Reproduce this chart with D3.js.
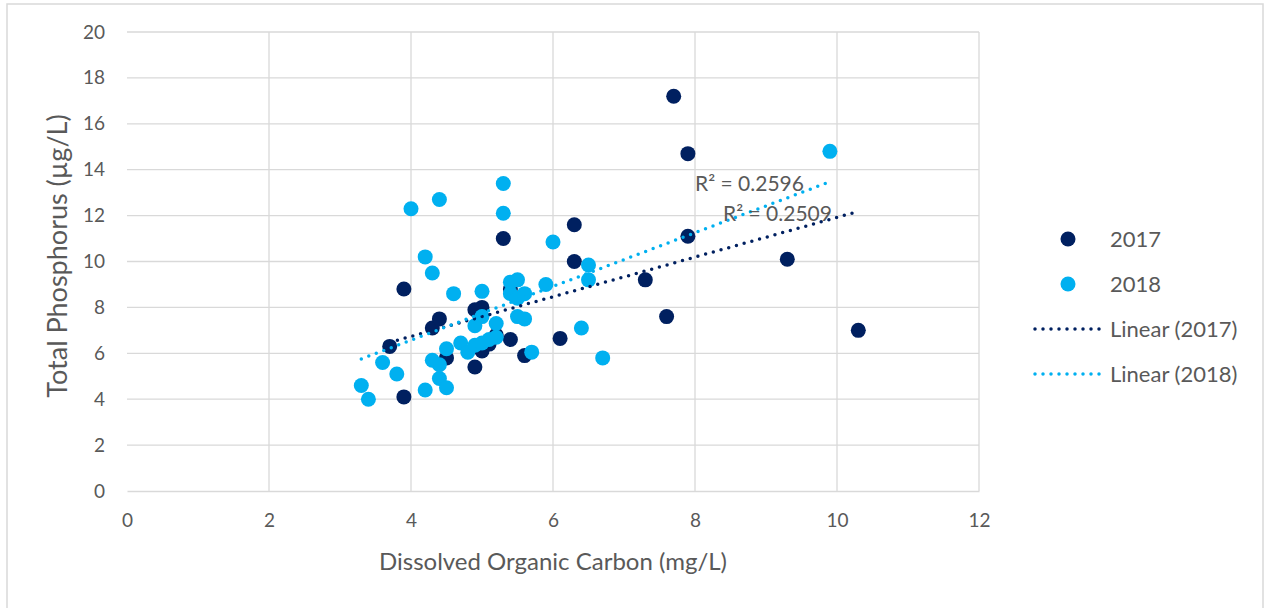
<!DOCTYPE html>
<html lang="en">
<head>
  <meta charset="UTF-8">
  <title>Total Phosphorus vs DOC</title>
  <script src="https://d3js.org/d3.v7.min.js"></script>
  <style>
    body { margin: 0; background: #fff; }
    text { font-family: Lato, "Open Sans", sans-serif; fill: #595959; }
  </style>
</head>
<body>
  <svg id="chart" width="1266" height="608"></svg>
  <script>
    // Data: [DOC mg/L, TP ug/L]
    const data2017 = [
      [3.7, 6.3], [3.9, 8.8], [3.9, 4.1], [4.3, 7.1], [4.4, 7.5], [4.5, 5.8],
      [4.9, 7.9], [5.0, 8.0], [4.9, 5.4], [5.0, 6.1], [5.1, 6.4], [5.2, 6.8],
      [5.3, 11.0], [5.4, 8.8], [5.4, 6.6], [5.6, 5.9], [6.1, 6.65], [6.3, 11.6],
      [6.3, 10.0], [7.3, 9.2], [7.6, 7.6], [7.7, 17.2], [7.9, 14.7], [7.9, 11.1],
      [9.3, 10.1], [10.3, 7.0]
    ];
    const data2018 = [
      [3.3, 4.6], [3.4, 4.0], [3.6, 5.6], [3.8, 5.1], [4.0, 12.3], [4.2, 10.2],
      [4.2, 4.4], [4.3, 9.5], [4.3, 5.7], [4.4, 12.7], [4.4, 5.5], [4.4, 4.9],
      [4.5, 6.2], [4.5, 4.5], [4.6, 8.6], [4.7, 6.45], [4.8, 6.05], [4.9, 6.35],
      [4.9, 7.2], [5.0, 6.45], [5.0, 7.6], [5.0, 8.7], [5.1, 6.6], [5.2, 6.7],
      [5.2, 7.3], [5.3, 13.4], [5.3, 12.1], [5.4, 9.1], [5.4, 8.6], [5.5, 9.2],
      [5.5, 8.4], [5.5, 7.6], [5.6, 8.6], [5.6, 7.5], [5.7, 6.05], [5.9, 9.0],
      [6.0, 10.85], [6.4, 7.1], [6.5, 9.85], [6.5, 9.2], [6.7, 5.8], [9.9, 14.8]
    ];
    const xTicks = [0, 2, 4, 6, 8, 10, 12];
    const yTicks = [0, 2, 4, 6, 8, 10, 12, 14, 16, 18, 20];
    const r2Labels = ["R² = 0.2509", "R² = 0.2596"];

    const navy = "#002060", cyan = "#00B0F0", grid = "#D9D9D9";

    const svg = d3.select("#chart");

    // outer chart border
    svg.append("rect")
      .attr("x", 7).attr("y", 4).attr("width", 1256).attr("height", 620)
      .attr("fill", "none").attr("stroke", grid).attr("stroke-width", 1.5);

    const x = d3.scaleLinear().domain([0, 12]).range([127, 979]);
    const y = d3.scaleLinear().domain([0, 20]).range([491, 32]);

    // gridlines
    svg.append("g").selectAll("line").data(yTicks.slice(1)).join("line")
      .attr("x1", x(0)).attr("x2", x(12))
      .attr("y1", d => y(d)).attr("y2", d => y(d))
      .attr("stroke", grid).attr("stroke-width", 1.3);
    svg.append("g").selectAll("line").data(xTicks.slice(1)).join("line")
      .attr("x1", d => x(d)).attr("x2", d => x(d))
      .attr("y1", y(0)).attr("y2", y(20))
      .attr("stroke", grid).attr("stroke-width", 1.3);

    // axes
    const xAxis = svg.append("g")
      .attr("transform", `translate(0,${y(0)})`)
      .call(d3.axisBottom(x).tickValues(xTicks).tickSize(0).tickPadding(23));
    const yAxis = svg.append("g")
      .attr("transform", `translate(${x(0)},0)`)
      .call(d3.axisLeft(y).tickValues(yTicks).tickSize(0).tickPadding(22));
    [xAxis, yAxis].forEach(a => {
      a.select(".domain").attr("stroke", grid).attr("stroke-width", 1.3);
      a.selectAll("text").style("font-size", "19px").attr("fill", "#595959")
        .style("font-family", "Lato, 'Open Sans', sans-serif");
    });
    yAxis.select(".domain").remove();

    // axis titles
    svg.append("text")
      .attr("x", 553).attr("y", 570)
      .attr("text-anchor", "middle")
      .style("font-size", "24px")
      .text("Dissolved Organic Carbon (mg/L)");
    svg.append("text")
      .attr("transform", "translate(67,256) rotate(-90)")
      .attr("text-anchor", "middle")
      .style("font-size", "27px")
      .text("Total Phosphorus (µg/L)");

    // points
    const series = [
      { name: "2017", data: data2017, color: navy },
      { name: "2018", data: data2018, color: cyan }
    ];
    series.forEach(s => {
      svg.append("g").selectAll("circle").data(s.data).join("circle")
        .attr("cx", d => x(d[0])).attr("cy", d => y(d[1]))
        .attr("r", 7.5).attr("fill", s.color);
    });

    // linear trend lines (least squares over each series)
    const fit = pts => {
      const mx = d3.mean(pts, d => d[0]), my = d3.mean(pts, d => d[1]);
      const b = d3.sum(pts, d => (d[0] - mx) * (d[1] - my)) / d3.sum(pts, d => (d[0] - mx) ** 2);
      const a = my - b * mx;
      const [x0, x1] = d3.extent(pts, d => d[0]);
      return [[x0, a + b * x0], [x1, a + b * x1]];
    };
    const dotted = sel => sel.attr("stroke-width", 3.5)
      .attr("stroke-linecap", "round").attr("stroke-dasharray", "0,8");

    series.forEach(s => {
      const seg = fit(s.data);
      svg.append("line")
        .attr("x1", x(seg[0][0])).attr("y1", y(seg[0][1]))
        .attr("x2", x(seg[1][0])).attr("y2", y(seg[1][1]))
        .attr("stroke", s.color).call(dotted);
    });

    // R² labels
    svg.append("text").attr("x", 723).attr("y", 221)
      .style("font-size", "21px").text(r2Labels[0]);
    svg.append("text").attr("x", 695).attr("y", 191)
      .style("font-size", "21px").text(r2Labels[1]);

    // legend
    const legend = svg.append("g");
    const rows = [
      { label: "2017", color: navy, type: "dot" },
      { label: "2018", color: cyan, type: "dot" },
      { label: "Linear (2017)", color: navy, type: "line" },
      { label: "Linear (2018)", color: cyan, type: "line" }
    ];
    rows.forEach((r, i) => {
      const cy = 239 + i * 45;
      if (r.type === "dot") {
        legend.append("circle").attr("cx", 1068).attr("cy", cy).attr("r", 7.5).attr("fill", r.color);
      } else {
        legend.append("line").attr("x1", 1035).attr("x2", 1102)
          .attr("y1", cy).attr("y2", cy).attr("stroke", r.color).call(dotted);
      }
      legend.append("text").attr("x", 1110).attr("y", cy + 8)
        .style("font-size", "22px").text(r.label);
    });
  </script>
</body>
</html>
